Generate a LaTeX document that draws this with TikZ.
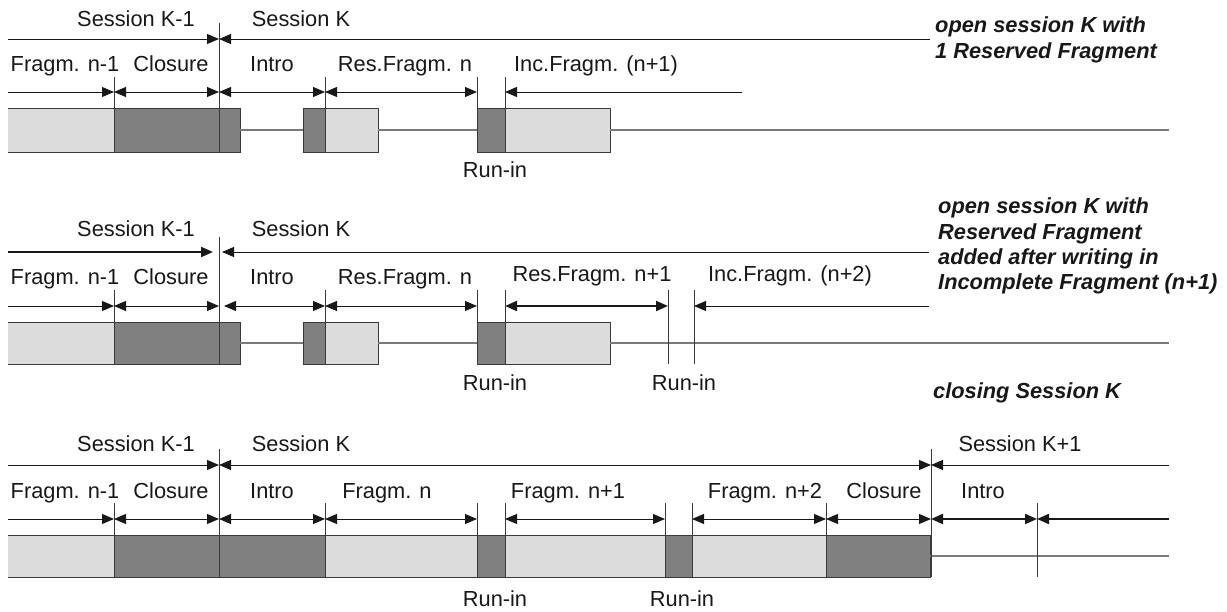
\documentclass[tikz,border=0pt]{standalone}
\usepackage{fontspec}
\setmainfont{Liberation Sans}
\usetikzlibrary{arrows.meta}
\definecolor{txt}{HTML}{1A1718}
\definecolor{lightf}{HTML}{DCDCDC}
\definecolor{darkf}{HTML}{808080}
\definecolor{edgec}{HTML}{3A3A3A}
\definecolor{trackc}{HTML}{7A7A7A}
\tikzset{
  >={Triangle[length=12pt,width=10pt]},
  lbl/.style={font=\fontsize{21.8}{26}\selectfont, text=txt, inner sep=0pt, anchor=base},
  ttl/.style={font=\fontsize{21.8}{26}\selectfont\bfseries\itshape, text=txt, inner sep=0pt, anchor=base west},
  dim/.style={draw=txt, line width=0.9pt},
  heavydim/.style={draw=txt, line width=2pt},
  tickline/.style={draw=edgec, line width=0.9pt},
  boxd/.style={fill=darkf, draw=edgec, line width=0.9pt},
  boxl/.style={fill=lightf, draw=edgec, line width=0.9pt},
  trk/.style={draw=trackc, line width=1.1pt},
}
\begin{document}
\begin{tikzpicture}[x=1pt,y=-1pt]
\useasboundingbox (0,0) rectangle (1227,612);

%================ ROW 1 =================
\fill[lightf] (8,108) rectangle (114,152);
\draw[edgec,line width=0.9pt] (8,108) -- (114,108) (8,152) -- (114,152);
\draw[boxd] (114,108) rectangle (240,152);
\draw[boxd] (303,108) rectangle (325,152);
\draw[boxl] (325,108) rectangle (378,152);
\draw[boxd] (477,108) rectangle (505,152);
\draw[boxl] (505,108) rectangle (610,152);
\draw[trk] (240,130) -- (303,130) (378,130) -- (477,130) (610,130) -- (1169,130);
\draw[tickline] (219,23) -- (219,152);
\foreach \x in {114,325,477,505} \draw[tickline] (\x,77) -- (\x,152);
\coordinate (a1s0) at (8,39);
\coordinate (a1s1) at (219,39);
\coordinate (a1s2) at (930,39);
\coordinate (a1f0) at (8,92);
\coordinate (a1f1) at (114,92);
\coordinate (a1f2) at (219,92);
\coordinate (a1f3) at (325,92);
\coordinate (a1f4) at (477,92);
\coordinate (a1f5) at (505,92);
\coordinate (a1f6) at (742,92);
\draw[dim,->] (a1s0) -- (a1s1);
\draw[dim,->] (a1s2) -- (a1s1);
\draw[dim,->] (a1f0) -- (a1f1);
\draw[dim,<->] (a1f1) -- (a1f2);
\draw[dim,<->] (a1f2) -- (a1f3);
\draw[dim,<->] (a1f3) -- (a1f4);
\draw[dim,->] (a1f6) -- (a1f5);
\node[lbl] (r1sk1) at (136,27) {Session K-1};
\node[lbl] (r1sk) at (301,27) {Session K};
\node[lbl] (r1fn1) at (65,72) {Fragm. n-1};
\node[lbl] (r1cl) at (171,72) {Closure};
\node[lbl] (r1in) at (272,72) {Intro};
\node[lbl] (r1rf) at (405,72) {Res.Fragm. n};
\node[lbl] (r1if) at (596,72) {Inc.Fragm. (n+1)};
\node[lbl] (r1ri) at (495,178) {Run-in};
\node[ttl] (t1a) at (935,33) {open session K with};
\node[ttl] (t1b) at (935,59) {1 Reserved Fragment};

%================ ROW 2 =================
\fill[lightf] (8,322) rectangle (114,364);
\draw[edgec,line width=0.9pt] (8,322) -- (114,322) (8,364) -- (114,364);
\draw[boxd] (114,322) rectangle (240,364);
\draw[boxd] (303,322) rectangle (325,364);
\draw[boxl] (325,322) rectangle (378,364);
\draw[boxd] (477,322) rectangle (505,364);
\draw[boxl] (505,322) rectangle (610,364);
\draw[trk] (240,343) -- (303,343) (378,343) -- (477,343) (610,343) -- (1169,343);
\draw[tickline] (219,237) -- (219,364);
\foreach \x in {114,325,477,505,668,694} \draw[tickline] (\x,290) -- (\x,364);
\coordinate (a2s0) at (8,252);
\coordinate (a2s1) at (219,252);
\coordinate (a2s2) at (929,252);
\coordinate (a2f0) at (8,306);
\coordinate (a2f1) at (114,306);
\coordinate (a2f2) at (219,306);
\coordinate (a2f3) at (325,306);
\coordinate (a2f4) at (477,306);
\coordinate (a2f5) at (505,306);
\coordinate (a2f6) at (668,306);
\coordinate (a2f7) at (694,306);
\coordinate (a2f8) at (929,306);
\draw[heavydim,->,shorten >=6pt] (a2s0) -- (a2s1);
\draw[dim,->,shorten >=3pt] (a2s2) -- (a2s1);
\draw[dim,->] (a2f0) -- (a2f1);
\draw[dim,<->] (a2f1) -- (a2f2);
\draw[dim,<->,shorten <=5pt] (a2f2) -- (a2f3);
\draw[dim,<->] (a2f3) -- (a2f4);
\draw[heavydim,<->] (a2f5) -- (a2f6);
\draw[dim,->] (a2f8) -- (a2f7);
\node[lbl] (r2sk1) at (136,237) {Session K-1};
\node[lbl] (r2sk) at (301,237) {Session K};
\node[lbl] (r2fn1) at (65,285) {Fragm. n-1};
\node[lbl] (r2cl) at (171,285) {Closure};
\node[lbl] (r2in) at (272,285) {Intro};
\node[lbl] (r2rf) at (405,285) {Res.Fragm. n};
\node[lbl] (r2rf1) at (592,282) {Res.Fragm. n+1};
\node[lbl] (r2if) at (790,282) {Inc.Fragm. (n+2)};
\node[lbl] (r2ri1) at (495,391) {Run-in};
\node[lbl] (r2ri2) at (684,391) {Run-in};
\node[ttl] (t2a) at (938,214) {open session K with};
\node[ttl] (t2b) at (938,240) {Reserved Fragment};
\node[ttl] (t2c) at (938,265) {added after writing in};
\node[ttl] (t2d) at (938,290) {Incomplete Fragment (n+1)};
\node[ttl] (t3) at (933,399) {closing Session K};

%================ ROW 3 =================
\fill[lightf] (8,535) rectangle (114,577);
\draw[edgec,line width=0.9pt] (8,535) -- (114,535) (8,577) -- (114,577);
\draw[boxd] (114,535) rectangle (219,577);
\draw[boxd] (219,535) rectangle (325,577);
\draw[boxl] (325,535) rectangle (477,577);
\draw[boxd] (477,535) rectangle (505,577);
\draw[boxl] (505,535) rectangle (665,577);
\draw[boxd] (665,535) rectangle (692,577);
\draw[boxl] (692,535) rectangle (826,577);
\draw[boxd] (826,535) rectangle (930,577);
\draw[trk] (930,556) -- (1169,556);
\draw[tickline] (219,449) -- (219,577);
\draw[tickline] (931,449) -- (931,577);
\foreach \x in {114,325,477,505,665,692,826,1037} \draw[tickline] (\x,503) -- (\x,577);
\coordinate (a3s0) at (8,465);
\coordinate (a3s1) at (219,465);
\coordinate (a3s2) at (931,465);
\coordinate (a3s3) at (1169,465);
\coordinate (a3f0) at (8,519);
\coordinate (a3f1) at (114,519);
\coordinate (a3f2) at (219,519);
\coordinate (a3f3) at (325,519);
\coordinate (a3f4) at (477,519);
\coordinate (a3f5) at (505,519);
\coordinate (a3f6) at (665,519);
\coordinate (a3f7) at (692,519);
\coordinate (a3f8) at (826,519);
\coordinate (a3f9) at (931,519);
\coordinate (a3f10) at (1037,519);
\coordinate (a3f11) at (1169,519);
\draw[dim,->] (a3s0) -- (a3s1);
\draw[dim,<->] (a3s1) -- (a3s2);
\draw[dim,->] (a3s3) -- (a3s2);
\draw[dim,->] (a3f0) -- (a3f1);
\draw[dim,<->] (a3f1) -- (a3f2);
\draw[dim,<->] (a3f2) -- (a3f3);
\draw[dim,<->] (a3f3) -- (a3f4);
\draw[dim,<->] (a3f5) -- (a3f6);
\draw[dim,<->] (a3f7) -- (a3f8);
\draw[dim,<->] (a3f8) -- (a3f9);
\draw[heavydim,<->] (a3f9) -- (a3f10);
\draw[heavydim,->] (a3f11) -- (a3f10);
\node[lbl] (r3sk1) at (136,451) {Session K-1};
\node[lbl] (r3sk) at (301,451) {Session K};
\node[lbl] (r3sk2) at (1020,451) {Session K+1};
\node[lbl] (r3fn1) at (65,498) {Fragm. n-1};
\node[lbl] (r3cl) at (171,498) {Closure};
\node[lbl] (r3in) at (272,498) {Intro};
\node[lbl] (r3fn) at (387,498) {Fragm. n};
\node[lbl] (r3fnp1) at (568,498) {Fragm. n+1};
\node[lbl] (r3fnp2) at (765,498) {Fragm. n+2};
\node[lbl] (r3cl2) at (884,498) {Closure};
\node[lbl] (r3in2) at (983,498) {Intro};
\node[lbl] (r3ri1) at (495,606) {Run-in};
\node[lbl] (r3ri2) at (682,606) {Run-in};
\end{tikzpicture}
\end{document}
